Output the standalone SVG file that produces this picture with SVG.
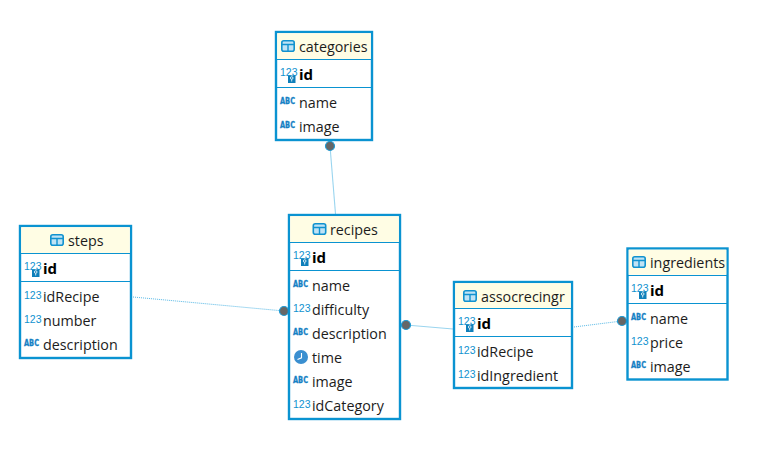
<svg xmlns="http://www.w3.org/2000/svg" xmlns:xlink="http://www.w3.org/1999/xlink" width="760" height="452" viewBox="0 0 760 452">
<style>
text{font-family:"Open Sans","Noto Sans","Liberation Sans",sans-serif;fill:#1c1c1c}
.box{fill:#fff;stroke:#0a93d1;stroke-width:2.4}
.head{fill:#fffde4}
.sep{stroke:#0a93d1;stroke-width:1;fill:none}
.t{font-size:14.3px}
.c{font-size:14.3px}
.pk{font-size:15px;font-weight:700;fill:#000}
.n{font-family:"Liberation Sans",sans-serif;font-size:10.5px;fill:#1192cf}
.a{font-family:"DejaVu Sans",sans-serif;font-size:8.5px;font-weight:700;fill:#1580c4;stroke:#1580c4;stroke-width:0.3}
.link{fill:none;stroke:#55b8e6;stroke-width:1;stroke-dasharray:1 1}
.solid{fill:none;stroke:#9ad5ef;stroke-width:1.1}
.dot{fill:#666;stroke:#1f9bd4;stroke-width:1.2}
</style>
<defs>
<g id="tbl"><rect x="0.8" y="0.8" width="12.4" height="10.4" rx="2" fill="#bfe3f5" stroke="#1192cf" stroke-width="1.6"/><path d="M1 4.500H13M7 4.500V11" stroke="#1192cf" stroke-width="1.400" fill="none"/></g>
<g id="key"><text class="n" x="0" y="9">123</text><rect x="8" y="8.500" width="7.500" height="7.500" fill="#0f7fba"/><circle cx="11.700" cy="11" r="1.300" fill="none" stroke="#fff" stroke-width="0.800"/><path d="M11.700 12.300V14.500" stroke="#fff" stroke-width="0.800"/></g>
<g id="clk"><circle cx="7" cy="7" r="7" fill="#3a8fd0"/><path d="M7.500 3V7.800L3.500 9.500" fill="none" stroke="#fff" stroke-width="1.100"/></g>
</defs>
<g id="connectors">
<path class="solid" d="M330 146L335.500 214"/>
<path class="link" d="M133 297L284 311"/>
<path class="solid" d="M406 325L453 329"/>
<path class="link" d="M574 327L622 321"/>
<circle class="dot" cx="330" cy="146" r="4.500"/>
<circle class="dot" cx="284" cy="311" r="4.500"/>
<circle class="dot" cx="406" cy="325" r="4.500"/>
<circle class="dot" cx="622" cy="321" r="4.500"/>
</g>
<g id="categories">
<rect class="box" x="276" y="32" width="96" height="108"/>
<rect class="head" x="277.200" y="33.200" width="93.600" height="26"/>
<path class="sep" d="M276 59.500H372M276 87.500H372"/>
<use xlink:href="#tbl" href="#tbl" x="281" y="40"/>
<text class="t" x="299" y="52">categories</text>
<use xlink:href="#key" href="#key" x="280" y="67"/>
<text class="pk" x="299" y="80">id</text>
<text class="a" x="280" y="104" textLength="15" lengthAdjust="spacingAndGlyphs">ABC</text>
<text class="c" x="299" y="108">name</text>
<text class="a" x="280" y="128" textLength="15" lengthAdjust="spacingAndGlyphs">ABC</text>
<text class="c" x="299" y="132">image</text>
</g>
<g id="recipes">
<rect class="box" x="289" y="215" width="111" height="204"/>
<rect class="head" x="290.200" y="216.200" width="108.600" height="26"/>
<path class="sep" d="M289 242.500H400M289 270.500H400"/>
<use xlink:href="#tbl" href="#tbl" x="312.500" y="223"/>
<text class="t" x="330" y="235">recipes</text>
<use xlink:href="#key" href="#key" x="293" y="250"/>
<text class="pk" x="312" y="263">id</text>
<text class="a" x="293" y="287" textLength="15" lengthAdjust="spacingAndGlyphs">ABC</text>
<text class="c" x="312" y="291">name</text>
<text class="n" x="293" y="312">123</text>
<text class="c" x="312" y="315">difficulty</text>
<text class="a" x="293" y="335" textLength="15" lengthAdjust="spacingAndGlyphs">ABC</text>
<text class="c" x="312" y="339">description</text>
<use xlink:href="#clk" href="#clk" x="294" y="350"/>
<text class="c" x="312" y="363">time</text>
<text class="a" x="293" y="383" textLength="15" lengthAdjust="spacingAndGlyphs">ABC</text>
<text class="c" x="312" y="387">image</text>
<text class="n" x="293" y="408">123</text>
<text class="c" x="312" y="411">idCategory</text>
</g>
<g id="steps">
<rect class="box" x="20" y="226" width="111" height="132"/>
<rect class="head" x="21.200" y="227.200" width="108.600" height="26"/>
<path class="sep" d="M20 253.500H131M20 281.500H131"/>
<use xlink:href="#tbl" href="#tbl" x="50" y="234"/>
<text class="t" x="68" y="246">steps</text>
<use xlink:href="#key" href="#key" x="24" y="261"/>
<text class="pk" x="43" y="274">id</text>
<text class="n" x="24" y="299">123</text>
<text class="c" x="43" y="302">idRecipe</text>
<text class="n" x="24" y="323">123</text>
<text class="c" x="43" y="326">number</text>
<text class="a" x="24" y="346" textLength="15" lengthAdjust="spacingAndGlyphs">ABC</text>
<text class="c" x="43" y="350">description</text>
</g>
<g id="assocrecingr">
<rect class="box" x="454" y="282" width="118" height="106"/>
<rect class="head" x="455.200" y="283.200" width="115.600" height="25"/>
<path class="sep" d="M454 308.500H572M454 336.500H572"/>
<use xlink:href="#tbl" href="#tbl" x="463" y="290"/>
<text class="t" x="481" y="302">assocrecingr</text>
<use xlink:href="#key" href="#key" x="458" y="316"/>
<text class="pk" x="477" y="329">id</text>
<text class="n" x="458" y="354">123</text>
<text class="c" x="477" y="357">idRecipe</text>
<text class="n" x="458" y="378">123</text>
<text class="c" x="477" y="381">idIngredient</text>
</g>
<g id="ingredients">
<rect class="box" x="627.500" y="248.500" width="100" height="131"/>
<rect class="head" x="628.700" y="249.700" width="97.600" height="25"/>
<path class="sep" d="M627.500 275.500H727.500M627.500 303.500H727.500"/>
<use xlink:href="#tbl" href="#tbl" x="632" y="256"/>
<text class="t" x="650" y="268">ingredients</text>
<use xlink:href="#key" href="#key" x="631" y="283"/>
<text class="pk" x="650" y="296">id</text>
<text class="a" x="631" y="320" textLength="15" lengthAdjust="spacingAndGlyphs">ABC</text>
<text class="c" x="650" y="324">name</text>
<text class="n" x="631" y="345">123</text>
<text class="c" x="650" y="348">price</text>
<text class="a" x="631" y="368" textLength="15" lengthAdjust="spacingAndGlyphs">ABC</text>
<text class="c" x="650" y="372">image</text>
</g>
</svg>
